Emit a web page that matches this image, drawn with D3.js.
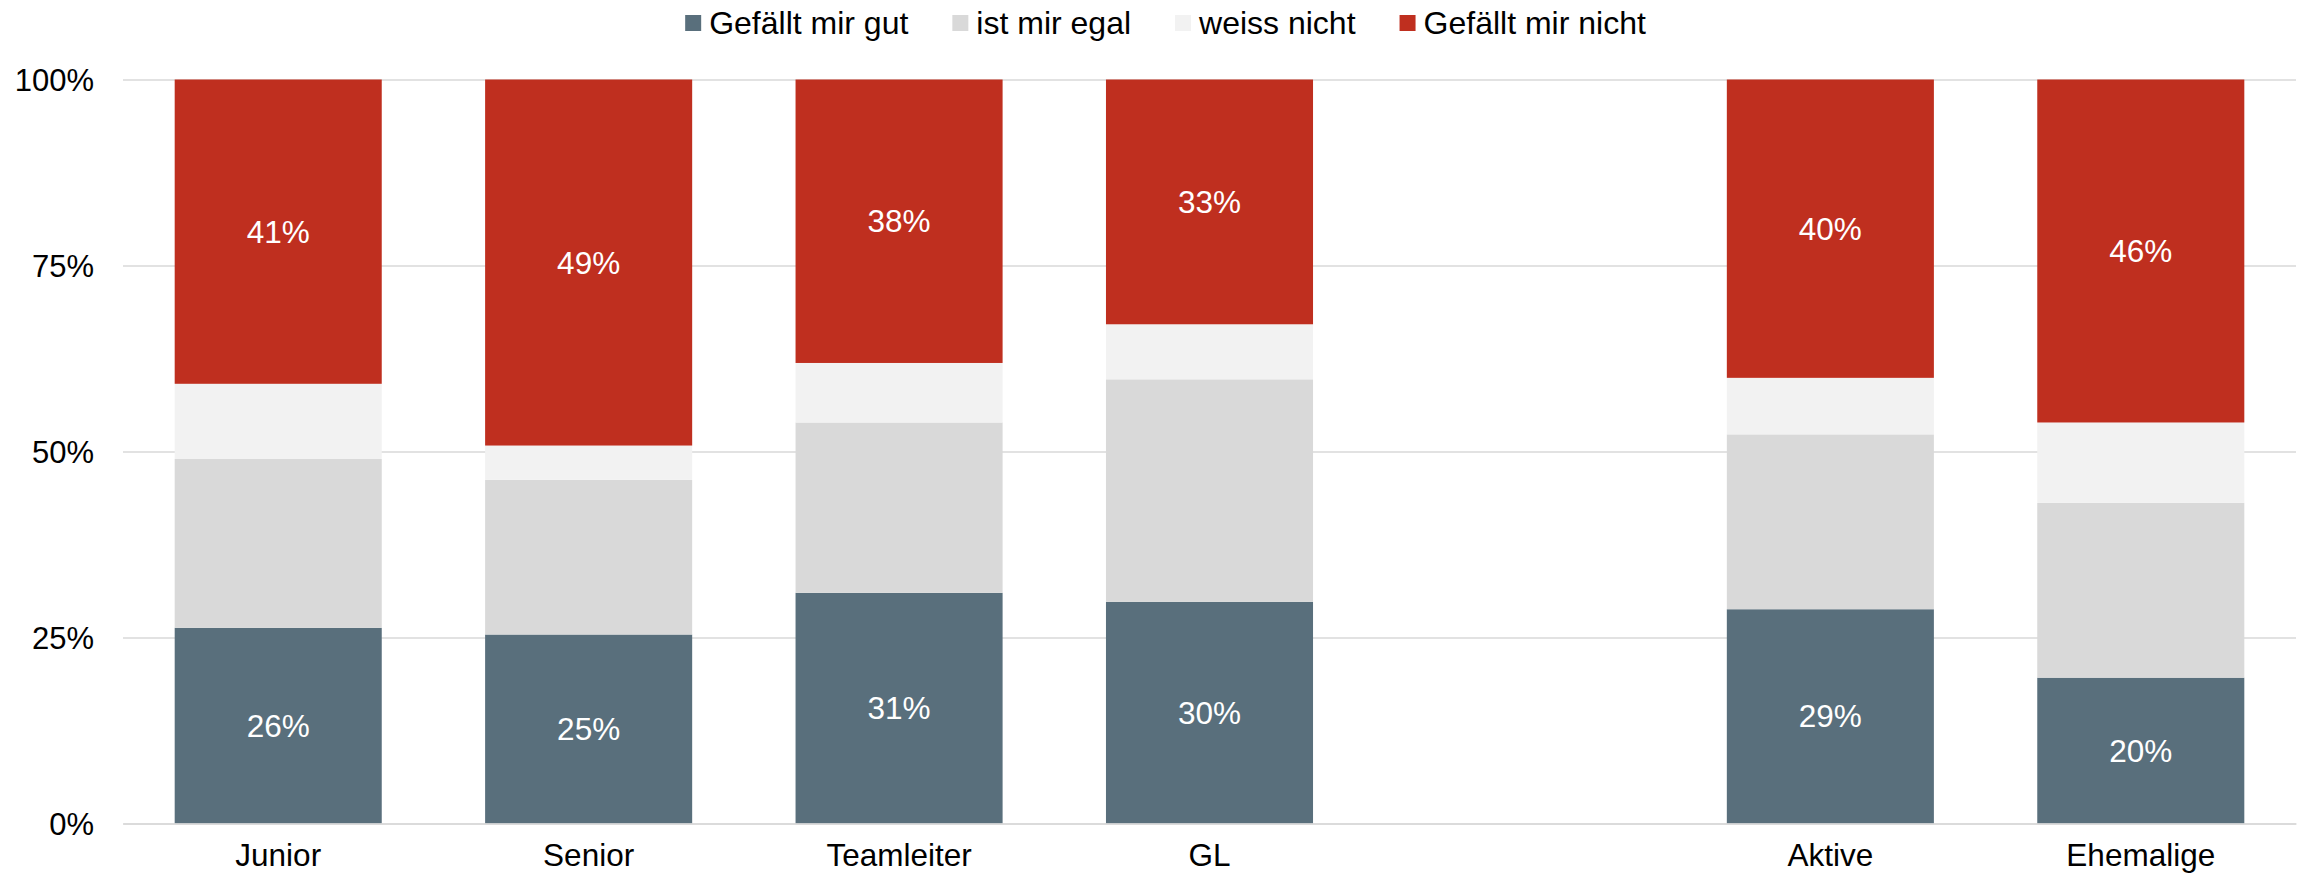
<!DOCTYPE html>
<html>
<head>
<meta charset="utf-8">
<script src="https://cdn.jsdelivr.net/npm/d3@7"></script>
<style>
  html, body { margin: 0; padding: 0; background: #ffffff; }
  svg { display: block; }
  text { font-family: "Liberation Sans", Arial, sans-serif; }
</style>
</head>
<body>
<svg id="chart" width="2303" height="879"></svg>
<script>
// ---- data ----
const categories = ["Junior", "Senior", "Teamleiter", "GL", "", "Aktive", "Ehemalige"];
const seriesNames = ["Gefällt mir gut", "ist mir egal", "weiss nicht", "Gefällt mir nicht"];
const gefalltGut   = [26.3, 25.4, 31.0, 29.8, null, 28.8, 19.6];
const istMirEgal   = [22.7, 20.8, 22.9, 29.9, null, 23.5, 23.5];
const weissNicht   = [10.1,  4.6,  8.0,  7.4, null,  7.6, 10.8];
const gefalltNicht = [40.9, 49.2, 38.1, 32.9, null, 40.1, 46.1];
const yTicks = [0, 25, 50, 75, 100];
const colors = ["#596f7c", "#d9d9d9", "#f2f2f2", "#bf2f1f"];
const labelledSeries = [0, 3];

// ---- layout ----
const svg = d3.select("#chart");
const margin = { left: 123, right: 7, top: 79.5, bottom: 55.5 };
const W = 2303, H = 879;
const x = d3.scaleBand().domain(d3.range(categories.length))
  .range([margin.left, W - margin.right]).paddingInner(0.333).paddingOuter(0.1665);
const y = d3.scaleLinear().domain([0, 100]).range([H - margin.bottom, margin.top]);

const rows = categories.map((c, i) => ({
  idx: i, cat: c,
  v: [gefalltGut[i], istMirEgal[i], weissNicht[i], gefalltNicht[i]]
}));
const dataRows = rows.filter(r => r.v[0] !== null);
const keys = [0, 1, 2, 3];
const stack = d3.stack().keys(keys).value((d, k) => d.v[k]);
const stacked = stack(dataRows);

// gridlines
const yAxis = d3.axisLeft(y).tickValues(yTicks).tickSize(-(W - margin.right - margin.left))
  .tickFormat(d => d + "%").tickPadding(29);
const gy = svg.append("g").attr("transform", `translate(${margin.left},0)`).call(yAxis);
gy.select(".domain").remove();
gy.selectAll(".tick line").attr("stroke", "#d9d9d9").attr("stroke-width", 1.4);
gy.selectAll(".tick text").attr("font-size", 31).attr("fill", "#000").attr("dy", "0.35em")
  .attr("font-family", "'Liberation Sans', Arial, sans-serif");

// bars
const layers = svg.append("g").selectAll("g").data(stacked).join("g")
  .attr("fill", d => colors[d.key]);
layers.selectAll("rect").data(d => d).join("rect")
  .attr("x", d => x(d.data.idx))
  .attr("width", x.bandwidth())
  .attr("y", d => y(d[1]))
  .attr("height", d => y(d[0]) - y(d[1]));

// data labels
stacked.filter(s => labelledSeries.includes(s.key)).forEach(s => {
  svg.append("g").selectAll("text").data(s).join("text")
    .attr("x", d => x(d.data.idx) + x.bandwidth() / 2)
    .attr("y", d => (y(d[0]) + y(d[1])) / 2)
    .attr("dy", "0.35em")
    .attr("text-anchor", "middle")
    .attr("font-size", 31.5)
    .attr("fill", "#ffffff")
    .text(d => Math.round(d[1] - d[0]) + "%");
});

// x axis
const xAxis = d3.axisBottom(x).tickSize(0).tickPadding(20).tickFormat(i => categories[i]);
const gx = svg.append("g").attr("transform", `translate(0,${y(0)})`).call(xAxis);
gx.select(".domain").attr("stroke", "#d9d9d9").attr("stroke-width", 1.4);
gx.selectAll(".tick text").attr("font-size", 31.5).attr("fill", "#000")
  .attr("font-family", "'Liberation Sans', Arial, sans-serif");

// legend
const legend = svg.append("g");
const sq = 16, gapSqText = 8, gapItems = 44;
let cx = 0;
seriesNames.forEach((n, i) => {
  const g = legend.append("g");
  g.append("rect").attr("x", 0).attr("y", 15).attr("width", sq).attr("height", sq).attr("fill", colors[i]);
  const t = g.append("text").attr("x", sq + gapSqText).attr("y", 34).attr("font-size", 32)
    .attr("fill", "#000").text(n);
  const w = t.node().getComputedTextLength();
  g.attr("transform", `translate(${cx},0)`);
  cx += sq + gapSqText + w + gapItems;
});
const totalW = cx - gapItems;
legend.attr("transform", `translate(${1165.5 - totalW / 2},0)`);
</script>
</body>
</html>
